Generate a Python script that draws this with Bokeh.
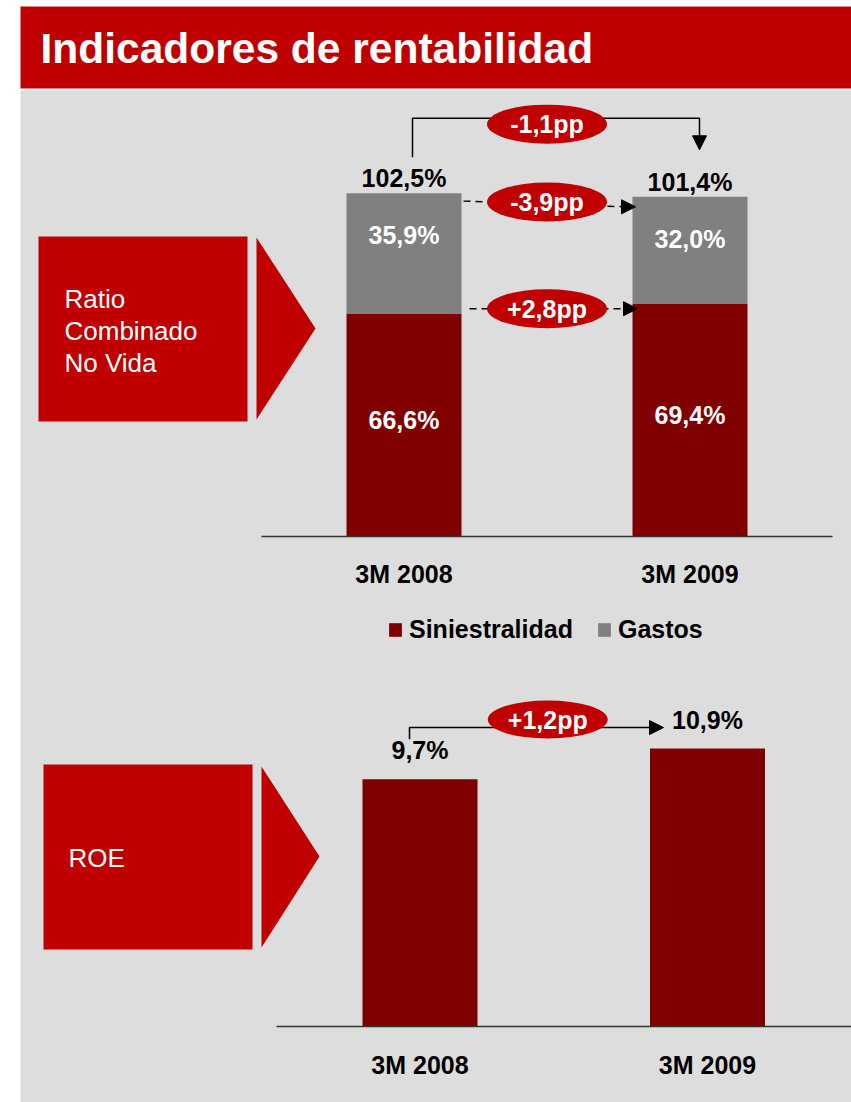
from bokeh.plotting import figure
from bokeh.models import Range1d, ColumnDataSource, Arrow, NormalHead, Legend, LegendItem
from bokeh.core.properties import value
from bokeh.embed import file_html
from bokeh.resources import INLINE

# ---------------- data ----------------
title_text = "Indicadores de rentabilidad"
categories = ["3M 2008", "3M 2009"]
siniestralidad = [66.6, 69.4]
gastos = [35.9, 32.0]
roe = [9.7, 10.9]
series_names = ["Siniestralidad", "Gastos"]
panel_top_lines = ["Ratio", "Combinado", "No Vida"]
panel_bottom_lines = ["ROE"]

# ---------------- style ----------------
RED = "#C00000"
DARK = "#800000"
GRAY = "#808080"
BG = "#DDDDDD"
FONT = value("Liberation Sans")


def fmt_pct(v):
    return f"{v:.1f}".replace(".", ",") + "%"


def fmt_pp(v):
    return f"{v:+.1f}".replace(".", ",") + "pp"


W, H = 851, 1102
X0, Y0 = 0, 0  # page offset of the figure

p = figure(width=W, height=H, output_backend="svg", toolbar_location=None,
           x_range=Range1d(X0, X0 + W), y_range=Range1d(Y0 + H, Y0),
           x_axis_location=None, y_axis_location=None, min_border=0)
p.outline_line_color = None
p.background_fill_color = "white"
p.border_fill_color = "white"
for g in p.grid:
    g.visible = False


def xr(anchor_px, unit_px):
    return Range1d((X0 - anchor_px) / unit_px, (X0 + W - anchor_px) / unit_px)


def yr(base_px, k):
    return Range1d((base_px - (Y0 + H)) / k, (base_px - Y0) / k)


# layout constants of the two charts
TX_A, TX_U = 403.5, 286.0
TY_B, KT = 536.0, 3.35
BX_A, BX_U = 419.5, 287.5
BY_B, KB = 1026.0, 25.5

p.extra_x_ranges = {"tx": xr(TX_A, TX_U), "bx": xr(BX_A, BX_U)}
p.extra_y_ranges = {"ty": yr(TY_B, KT), "by": yr(BY_B, KB)}

# ---------------- page decoration ----------------
p.quad(left=20, right=X0 + W, top=6, bottom=88, fill_color=RED, line_color=None)
p.quad(left=20, right=X0 + W, top=90, bottom=Y0 + H, fill_color=BG, line_color=None)
p.text(x=[40], y=[48], text=[title_text], text_color="white", text_font=FONT,
       text_font_style="bold", text_font_size="42.5px", text_baseline="middle")

# left panels
p.quad(left=38, right=247, top=236, bottom=421, fill_color=RED, line_color=None)
p.patch(x=[256, 315, 256], y=[237, 328, 419], fill_color=RED, line_color=None)
p.text(x=[64] * len(panel_top_lines), y=[298 + 32 * i for i in range(len(panel_top_lines))],
       text=panel_top_lines, text_color="white", text_font=FONT, text_font_size="26px",
       text_baseline="middle")

p.quad(left=43, right=252, top=764, bottom=949, fill_color=RED, line_color=None)
p.patch(x=[261, 319, 261], y=[766, 856, 947], fill_color=RED, line_color=None)
p.text(x=[68] * len(panel_bottom_lines), y=[857], text=panel_bottom_lines, text_color="white",
       text_font=FONT, text_font_size="26px", text_baseline="middle")


def head(x0, y0, x1, y1, ranges):
    """Arrow head only (body drawn as glyph line so it sits under the ellipses)."""
    p.add_layout(Arrow(x_start=x0, y_start=y0, x_end=x1, y_end=y1, line_alpha=0,
                       end=NormalHead(size=14, fill_color="black", line_color="black"),
                       **ranges))


# ---------------- top chart: ratio combinado ----------------
idx = list(range(len(categories)))
total = [s + g for s, g in zip(siniestralidad, gastos)]
top_src = ColumnDataSource(dict(
    x=idx, cat=categories, sin=siniestralidad, gas=gastos, tot=total,
    sin_lbl=[fmt_pct(v) for v in siniestralidad],
    gas_lbl=[fmt_pct(v) for v in gastos],
    tot_lbl=[fmt_pct(v) for v in total],
    sin_y=[v / 2 + 5 / KT for v in siniestralidad],
    gas_y=[t - 42 / KT for t in total],
    tot_y=[t + 15 / KT for t in total],
    cat_y=[-37 / KT] * len(idx),
))
TR = dict(x_range_name="tx", y_range_name="ty")
bars = p.vbar_stack(["sin", "gas"], x="x", width=115 / TX_U, color=[DARK, GRAY],
                    line_color=None, source=top_src, **TR)

# axis base line
p.segment(x0=[-142.5 / TX_U], x1=[1 + 142.5 / TX_U], y0=[0], y1=[0],
          line_color="#333333", line_width=1.5, **TR)

txt = dict(text_font=FONT, text_font_style="bold", text_font_size="25px",
           text_align="center", text_baseline="middle")
p.text(x="x", y="sin_y", text="sin_lbl", source=top_src, text_color="white", **txt, **TR)
p.text(x="x", y="gas_y", text="gas_lbl", source=top_src, text_color="white", **txt, **TR)
p.text(x="x", y="tot_y", text="tot_lbl", source=top_src, text_color="black", **txt, **TR)
p.text(x="x", y="cat_y", text="cat", source=top_src, text_color="black", **txt, **TR)

# change annotations
d_tot = total[1] - total[0]
d_gas = gastos[1] - gastos[0]
d_sin = siniestralidad[1] - siniestralidad[0]
mean_tot = sum(total) / 2
mean_sin = sum(siniestralidad) / 2
top_y = max(total) + 75 / KT
cx0 = idx[0] + 8.5 / TX_U
cx1 = idx[1] + 9.5 / TX_U
tip1 = total[1] + 47 / KT
p.line(x=[cx0, cx0, cx1, cx1], y=[total[0] + 36 / KT, top_y, top_y, tip1 + 10 / KT],
       line_color="black", line_width=1.5, **TR)
head(cx1, tip1 + 14 / KT, cx1, tip1, TR)

gx0, gy0 = idx[0] + 59.5 / TX_U, total[0] - 8 / KT
gx1, gy1 = idx[1] - 54.5 / TX_U, total[1] - 10 / KT
p.line(x=[gx0, gx1 - 10 / TX_U], y=[gy0, gy1], line_color="black", line_width=1.5,
       line_dash="7 5", **TR)
head(gx1 - 14 / TX_U, gy1, gx1, gy1, TR)

sx0, sx1 = idx[0] + 65.5 / TX_U, idx[1] - 52.5 / TX_U
p.line(x=[sx0, sx1 - 10 / TX_U], y=[mean_sin, mean_sin], line_color="black", line_width=1.5,
       line_dash="7 5", **TR)
head(sx1 - 14 / TX_U, mean_sin, sx1, mean_sin, TR)

ell_src = ColumnDataSource(dict(
    x=[0.5, 0.5, 0.5],
    y=[max(total) + 69 / KT, mean_tot - 7 / KT, mean_sin],
    t=[fmt_pp(d_tot), fmt_pp(d_gas), fmt_pp(d_sin)],
))
p.ellipse(x="x", y="y", width=120 / TX_U, height=39 / KT, source=ell_src,
          fill_color=RED, line_color=None, **TR)
p.text(x="x", y="y", text="t", source=ell_src, text_color="white", **txt, **TR)

legend = Legend(items=[LegendItem(label=series_names[0], renderers=[bars[0]]),
                       LegendItem(label=series_names[1], renderers=[bars[1]])],
                location=(387, 458), orientation="horizontal",
                glyph_width=16, glyph_height=17, label_standoff=6, spacing=23,
                padding=0, margin=0, border_line_color=None, background_fill_alpha=0,
                label_text_font="Liberation Sans", label_text_font_style="bold",
                label_text_font_size="25px", label_text_color="black")
p.add_layout(legend)

# ---------------- bottom chart: ROE ----------------
BR = dict(x_range_name="bx", y_range_name="by")
bot_src = ColumnDataSource(dict(
    x=idx, cat=categories, roe=roe,
    lbl=[fmt_pct(v) for v in roe],
    lbl_y=[v + 29 / KB for v in roe],
    cat_y=[-38 / KB] * len(idx),
))
p.vbar(x="x", top="roe", bottom=0, width=115 / BX_U, fill_color=DARK, line_color=None,
       source=bot_src, **BR)
p.segment(x0=[-143.5 / BX_U], x1=[1 + 144 / BX_U], y0=[0], y1=[0],
          line_color="#333333", line_width=1.5, **BR)
p.text(x="x", y="lbl_y", text="lbl", source=bot_src, text_color="black", **txt, **BR)
p.text(x="x", y="cat_y", text="cat", source=bot_src, text_color="black", **txt, **BR)

d_roe = roe[1] - roe[0]
rx0 = idx[0] - 10.5 / BX_U
ry = roe[1] + 21 / KB
rtip = idx[1] - 44 / BX_U
p.line(x=[rx0, rx0, rtip - 10 / BX_U], y=[roe[0] + 40 / KB, ry, ry], line_color="black",
       line_width=1.5, **BR)
head(rtip - 14 / BX_U, ry, rtip, ry, BR)
ell2 = ColumnDataSource(dict(x=[0.5 - 16 / BX_U], y=[roe[1] + 29 / KB], t=[fmt_pp(d_roe)]))
p.ellipse(x="x", y="y", width=120 / BX_U, height=38 / KB, source=ell2,
          fill_color=RED, line_color=None, **BR)
p.text(x="x", y="y", text="t", source=ell2, text_color="white", **txt, **BR)

open("out.html", "w").write(file_html(p, INLINE))
